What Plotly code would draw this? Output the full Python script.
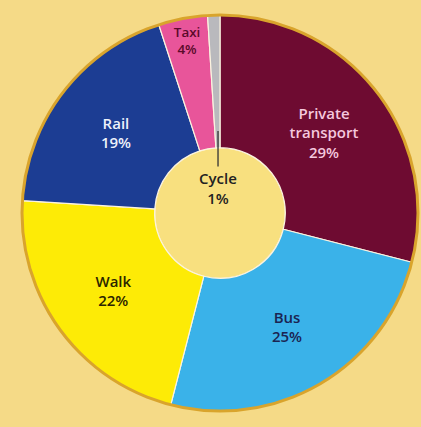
import plotly.graph_objects as go

categories = ["Private transport", "Bus", "Walk", "Rail", "Taxi", "Cycle"]
shares = [29, 25, 22, 19, 4, 1]
slice_colors = ["#6e0b31", "#3ab2e9", "#fdeb06", "#1c3d93", "#e8559a", "#b9b9bd"]
text_colors = ["#f5c8de", "#1b2452", "#2b2400", "#eef2fb", "#5a0a2a", "#222222"]
text_positions = ["inside", "inside", "inside", "inside", "inside", "none"]

display = [c.replace(" ", "<br>") for c in categories]

W, H = 421, 427
ml, mr, mt, mb = 22, 3, 15, 16

fig = go.Figure(go.Pie(
    labels=categories,
    values=shares,
    text=display,
    texttemplate="%{text}<br>%{value}%",
    textposition=text_positions,
    insidetextorientation="horizontal",
    sort=False,
    direction="clockwise",
    rotation=0,
    hole=0.33,
    marker=dict(colors=slice_colors, line=dict(color="#fbf3e0", width=1.2)),
    textfont=dict(family="Open Sans", size=15, color=text_colors, weight=600),
    showlegend=False,
    hoverinfo="label+percent",
))

# outer golden ring and hole fill (decoration)
pw, ph = W - ml - mr, H - mt - mb
r = min(pw, ph) / 2
cx, cy = 0.5, 0.5
rx, ry = r / pw, r / ph
fig.add_shape(type="circle", xref="paper", yref="paper",
              x0=cx - rx, x1=cx + rx, y0=cy - ry, y1=cy + ry,
              line=dict(color="#d9a42c", width=3), layer="above")
hr = 0.33
fig.add_shape(type="circle", xref="paper", yref="paper",
              x0=cx - rx * hr, x1=cx + rx * hr, y0=cy - ry * hr, y1=cy + ry * hr,
              fillcolor="#f8e07f", line=dict(color="#fbeec0", width=1.5), layer="below")

# Cycle label in the hole with leader line to its slice
fig.add_annotation(
    xref="paper", yref="paper",
    x=0.495, y=0.707,
    ax=0, ay=57, axref="pixel", ayref="pixel",
    text="Cycle<br>1%", showarrow=True, arrowhead=0, arrowwidth=1.3,
    arrowcolor="#333333",
    font=dict(family="Open Sans", size=15, color="#222222", weight=600),
)

fig.update_layout(
    width=W, height=H,
    margin=dict(l=ml, r=mr, t=mt, b=mb),
    paper_bgcolor="#f5da87",
    plot_bgcolor="#f5da87",
)

fig.write_html("out.html")
